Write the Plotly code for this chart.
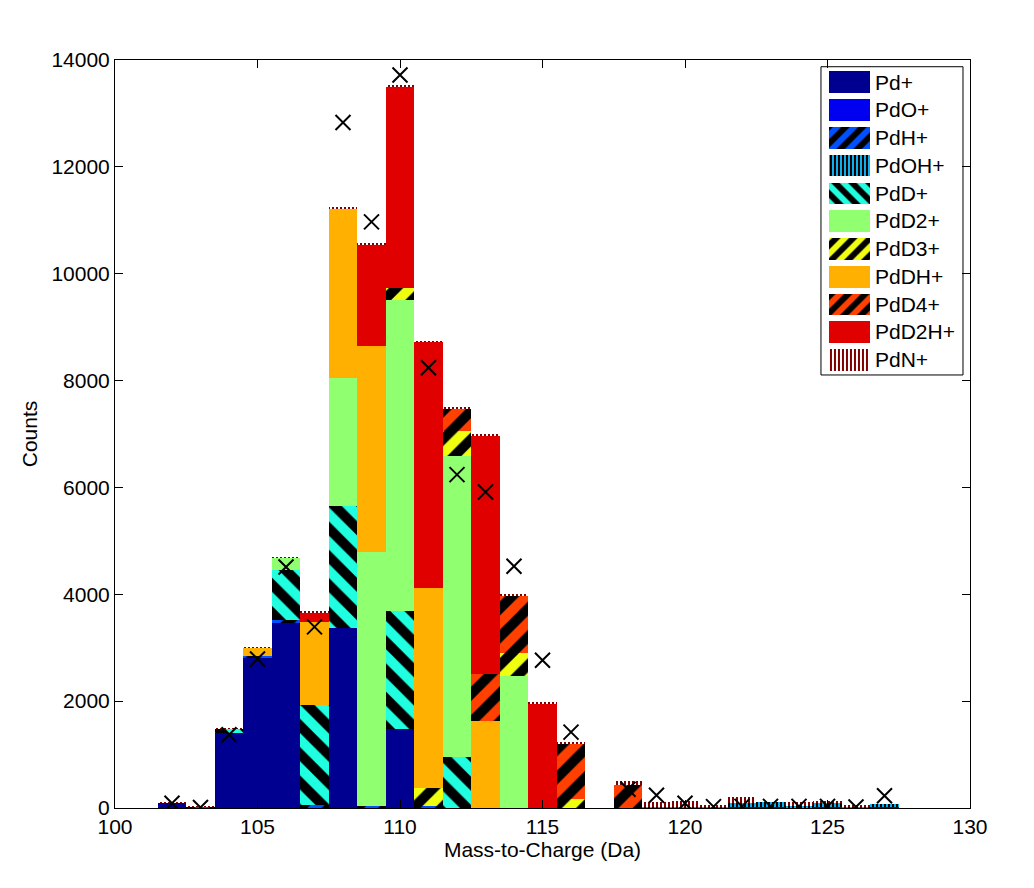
import plotly.graph_objects as go

mass = list(range(102, 128))

# counts per species, index matches mass 102..127
pd_plus  = [95, 0, 1410, 2807, 3457, 0, 3360, 0, 1480, 0, 0, 0, 0, 0, 0, 0, 0, 0, 0, 0, 0, 0, 0, 0, 0, 0]
pdo_plus = [0, 0, 0, 0, 0, 0, 0, 0, 0, 0, 0, 0, 0, 0, 0, 0, 0, 10, 10, 10, 10, 10, 10, 10, 10, 10]
pdh_plus = [0, 20, 0, 40, 60, 50, 0, 40, 0, 30, 0, 0, 0, 0, 0, 0, 0, 0, 0, 0, 0, 0, 0, 0, 0, 0]
pdoh_plus = [0, 0, 0, 0, 0, 0, 0, 0, 0, 0, 0, 0, 0, 0, 0, 0, 0, 15, 10, 25, 80, 100, 20, 100, 10, 60]
pdd_plus = [0, 0, 70, 0, 935, 1880, 2300, 0, 2215, 0, 960, 0, 0, 0, 0, 0, 0, 0, 0, 0, 0, 0, 0, 0, 0, 0]
pdd2_plus = [0, 0, 0, 0, 230, 0, 2380, 4750, 5815, 0, 5630, 0, 2477, 0, 0, 0, 0, 0, 0, 0, 0, 0, 0, 0, 0, 0]
pdd3_plus = [0, 0, 0, 0, 0, 0, 0, 0, 225, 350, 460, 0, 430, 0, 175, 0, 0, 0, 0, 0, 0, 0, 0, 0, 0, 0]
pddh_plus = [0, 0, 0, 150, 0, 1560, 3180, 3860, 0, 3745, 0, 1628, 0, 0, 0, 0, 0, 0, 0, 0, 0, 0, 0, 0, 0, 0]
pdd4_plus = [0, 0, 0, 0, 0, 0, 0, 0, 0, 0, 430, 880, 1073, 0, 1040, 0, 430, 0, 0, 0, 0, 0, 0, 0, 0, 0]
pdd2h_plus = [0, 0, 0, 0, 0, 175, 0, 1900, 3770, 4600, 0, 4460, 0, 1960, 0, 0, 0, 0, 0, 0, 0, 0, 0, 0, 0, 0]
pdn_plus = [10, 10, 15, 15, 15, 15, 15, 15, 15, 15, 15, 15, 15, 15, 15, 0, 75, 90, 105, 5, 120, 0, 80, 5, 20, 0]

measured = [90, 10, 1370, 2790, 4510, 3390, 12830, 10970, 13720, 8240, 6240, 5915, 4525, 2765, 1420, None,
            350, 240, 90, 25, 30, 30, 30, 30, 20, 230]

species = [
    ("Pd+", pd_plus, "#000090", "", None),
    ("PdO+", pdo_plus, "#0000F0", "", None),
    ("PdH+", pdh_plus, "#0050FF", "/", 20),
    ("PdOH+", pdoh_plus, "#10B0F0", "|", 4),
    ("PdD+", pdd_plus, "#20FFE0", "\\", 20),
    ("PdD2+", pdd2_plus, "#90FF70", "", None),
    ("PdD3+", pdd3_plus, "#F0FF10", "/", 20),
    ("PdDH+", pddh_plus, "#FFB000", "", None),
    ("PdD4+", pdd4_plus, "#FF4000", "/", 20),
    ("PdD2H+", pdd2h_plus, "#E00000", "", None),
    ("PdN+", pdn_plus, "#800000", "|", 4),
]


def make_marker(name, col, shape, size):
    if not shape:
        return dict(color=col, line=dict(width=0))
    if name == "PdN+":
        pat = dict(shape=shape, fgcolor=col, bgcolor="white", size=size, solidity=0.5,
                   fgopacity=1, fillmode="replace")
    else:
        pat = dict(shape=shape, fgcolor="black", bgcolor=col, size=size, solidity=0.5,
                   fgopacity=1, fillmode="replace")
    return dict(color=col, pattern=pat, line=dict(width=0))


fig = go.Figure()
for name, vals, col, shape, size in species:
    fig.add_trace(go.Bar(x=mass, y=vals, name=name, marker=make_marker(name, col, shape, size),
                         width=1, showlegend=False))

fig.add_trace(go.Scatter(x=mass, y=measured, mode="markers", showlegend=False,
                         marker=dict(symbol="x-thin", size=15, color="black",
                                     line=dict(width=2, color="black"))))

# legend drawn as swatches on an auxiliary pixel-scaled axis
n = len(species)
for i, (name, vals, col, shape, size) in enumerate(species):
    sw_size = 12 if size == 20 else size
    fig.add_trace(go.Bar(x=[41], base=[8], y=[n - 1 - i], orientation="h", width=0.78,
                         marker=make_marker(name, col, shape, sw_size),
                         xaxis="x2", yaxis="y2", showlegend=False, hoverinfo="skip"))
    fig.add_annotation(x=52, y=n - 1 - i, xref="x2", yref="y2", text=name, showarrow=False,
                       xanchor="left", yanchor="middle", font=dict(size=21, color="black"))

fig.add_shape(type="rect", xref="paper", yref="paper", x0=0.8257, x1=0.9918, y0=0.5789, y1=0.991,
              line=dict(color="black", width=1), fillcolor="white", layer="below")

axis_common = dict(showline=True, linecolor="black", linewidth=1, mirror="ticks",
                   ticks="inside", ticklen=8, tickcolor="black", showgrid=False,
                   zeroline=False, tickfont=dict(size=21, color="black"))

fig.update_layout(
    width=1034, height=888,
    margin=dict(l=115, r=64, t=60, b=80),
    paper_bgcolor="white", plot_bgcolor="rgba(0,0,0,0)",
    font=dict(family="Liberation Sans, Arial, sans-serif", size=21, color="black"),
    barmode="stack", bargap=0,
    xaxis=dict(range=[100, 130], tickvals=[100, 105, 110, 115, 120, 125, 130],
               title=dict(text="Mass-to-Charge (Da)", standoff=3, font=dict(size=21)),
               **axis_common),
    yaxis=dict(range=[0, 14000], tickvals=list(range(0, 14001, 2000)), tickformat="d",
               title=dict(text="Counts", standoff=8, font=dict(size=21)),
               **axis_common),
    xaxis2=dict(domain=[0.8257, 0.9918], range=[0, 142], anchor="y2", visible=False,
                fixedrange=True),
    yaxis2=dict(domain=[0.5789, 0.991], range=[-0.55, n - 0.45], anchor="x2", visible=False,
                fixedrange=True),
    showlegend=False,
)

fig.write_html("out.html")
